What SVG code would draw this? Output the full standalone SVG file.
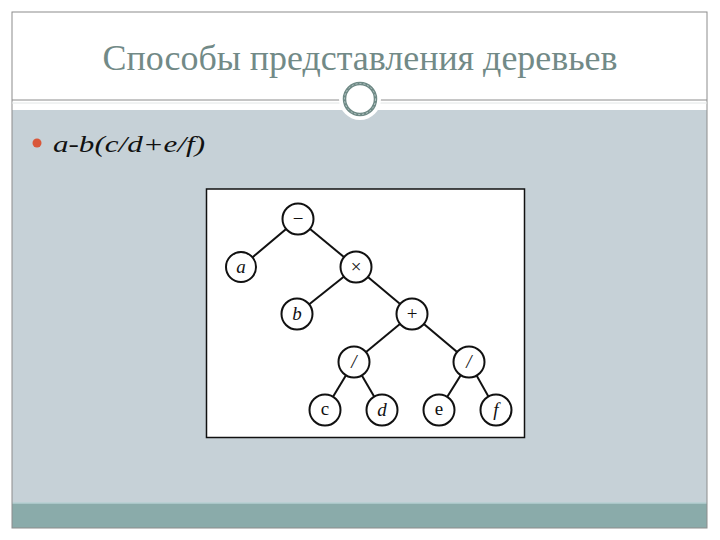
<svg xmlns="http://www.w3.org/2000/svg" width="720" height="540" viewBox="0 0 720 540">
<style>
.title{font-family:"Liberation Serif","DejaVu Serif",serif;font-size:36px;fill:#728a87}
.body{font-family:"Liberation Serif","DejaVu Serif",serif;font-size:24px;font-style:italic;fill:#111}
.node circle{fill:#fff;stroke:#111;stroke-width:2}
.node text{font-family:"Liberation Serif","DejaVu Serif",serif;font-size:19px;fill:#111;text-anchor:middle}
.it{font-style:italic}
#edges line{stroke:#111;stroke-width:2}
</style>
<rect x="0" y="0" width="720" height="540" fill="#fff"/>
<!-- slide frame -->
<rect x="12" y="110" width="695" height="393" fill="#c6d1d7"/>
<rect x="12" y="503" width="695" height="25" fill="#8aabaa"/>
<line x1="12" y1="503" x2="707" y2="503" stroke="#b4cfd2" stroke-width="1.5"/>
<rect x="12" y="12" width="695" height="516" fill="none" stroke="#8c8c8c" stroke-width="1"/>
<line x1="12" y1="100" x2="707" y2="100" stroke="#8c8c8c" stroke-width="1"/>
<line x1="12" y1="103" x2="707" y2="103" stroke="#e2e6e6" stroke-width="1"/>
<!-- ornament -->
<circle cx="360" cy="99" r="21" fill="#fff"/>
<circle cx="360" cy="99" r="15.5" fill="#fff" stroke="#6f8a86" stroke-width="3.5"/>
<circle cx="360" cy="99" r="15.5" fill="none" stroke="#b9c9c8" stroke-width="1" stroke-dasharray="2 2"/>
<text class="title" x="360" y="70" text-anchor="middle" textLength="515" lengthAdjust="spacingAndGlyphs">Способы представления деревьев</text>
<!-- bullet -->
<circle cx="37" cy="143" r="4.5" fill="#d9573a"/>
<text class="body" x="53" y="152" textLength="152" lengthAdjust="spacingAndGlyphs">a-b(c/d+e/f)</text>
<!-- tree picture -->
<rect x="206.5" y="189" width="318" height="248.5" fill="#fff" stroke="#111" stroke-width="1.5"/>
<g id="edges">
<line x1="298" y1="219" x2="241" y2="267"/>
<line x1="298" y1="219" x2="356" y2="267"/>
<line x1="356" y1="267" x2="297" y2="314"/>
<line x1="356" y1="267" x2="412" y2="314"/>
<line x1="412" y1="314" x2="354" y2="362"/>
<line x1="412" y1="314" x2="469" y2="362"/>
<line x1="354" y1="362" x2="325" y2="410"/>
<line x1="354" y1="362" x2="382" y2="410"/>
<line x1="469" y1="362" x2="439" y2="410"/>
<line x1="469" y1="362" x2="496" y2="410"/>
</g>
<g id="n-minus" class="node"><circle cx="298" cy="219" r="15.5"/><text x="298" y="225">−</text></g>
<g id="n-a" class="node"><circle cx="241" cy="267" r="15"/><text class="it" x="241" y="273">a</text></g>
<g id="n-times" class="node"><circle cx="356" cy="267" r="15.5"/><text x="356" y="273">×</text></g>
<g id="n-b" class="node"><circle cx="297" cy="314" r="15.5"/><text class="it" x="297" y="320">b</text></g>
<g id="n-plus" class="node"><circle cx="412" cy="314" r="15.5"/><text x="412" y="320">+</text></g>
<g id="n-div1" class="node"><circle cx="354" cy="362" r="15.5"/><text class="it" x="354" y="368">/</text></g>
<g id="n-div2" class="node"><circle cx="469" cy="362" r="15.5"/><text class="it" x="469" y="368">/</text></g>
<g id="n-c" class="node"><circle cx="325" cy="410" r="15.5"/><text x="325" y="415">c</text></g>
<g id="n-d" class="node"><circle cx="382" cy="410" r="15.5"/><text class="it" x="382" y="416">d</text></g>
<g id="n-e" class="node"><circle cx="439" cy="410" r="15.5"/><text x="439" y="415">e</text></g>
<g id="n-f" class="node"><circle cx="496" cy="410" r="15.5"/><text class="it" x="496" y="416">f</text></g>
</svg>
